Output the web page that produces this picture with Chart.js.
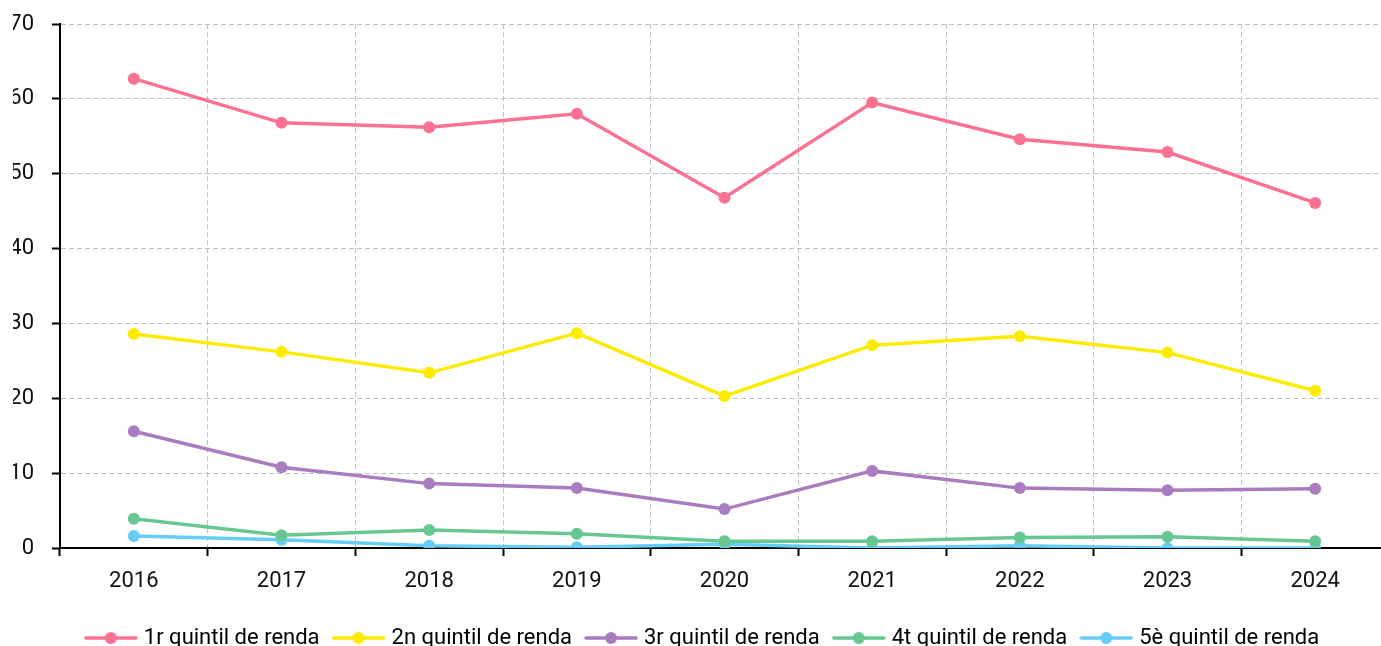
<!DOCTYPE html>
<html>
<head>
<meta charset="utf-8">
<script src="https://cdn.jsdelivr.net/npm/chart.js@4.4.1/dist/chart.umd.min.js"></script>
<style>
  html, body { margin: 0; padding: 0; background: #fff; overflow: hidden; }
  #wrap { width: 1395px; height: 659px; position: relative; }
</style>
</head>
<body>
<div id="wrap"><canvas id="c" width="1395" height="659"></canvas></div>
<script>
const years = ['2016','2017','2018','2019','2020','2021','2022','2023','2024'];
const quintil1 = [62.7, 56.8, 56.2, 58.0, 46.8, 59.5, 54.6, 52.9, 46.1];
const quintil2 = [28.6, 26.2, 23.4, 28.7, 20.3, 27.1, 28.3, 26.1, 21.0];
const quintil3 = [15.6, 10.8, 8.6, 8.0, 5.2, 10.3, 8.0, 7.7, 7.9];
const quintil4 = [3.9, 1.7, 2.4, 1.9, 0.9, 0.9, 1.4, 1.5, 0.9];
const quintil5 = [1.6, 1.1, 0.3, 0.1, 0.5, 0.0, 0.3, 0.0, 0.0];
const seriesNames = ['1r quintil de renda','2n quintil de renda','3r quintil de renda','4t quintil de renda','5è quintil de renda'];
const seriesColors = ['#fb7192','#fdeb00','#a97bbf','#66c791','#66cdf5'];
const seriesData = [quintil1, quintil2, quintil3, quintil4, quintil5];

const FONT = 'Roboto';

function legendMarker(color) {
  const c = document.createElement('canvas');
  c.width = 54; c.height = 14;
  const g = c.getContext('2d');
  g.strokeStyle = color; g.lineWidth = 3.5; g.lineCap = 'round';
  g.beginPath(); g.moveTo(2, 7); g.lineTo(52, 7); g.stroke();
  g.fillStyle = color;
  g.beginPath(); g.arc(27, 7, 6, 0, Math.PI * 2); g.fill();
  return c;
}
const markers = seriesColors.map(legendMarker);

new Chart(document.getElementById('c'), {
  type: 'line',
  data: {
    labels: years,
    datasets: seriesData.map((d, i) => ({
      label: seriesNames[i],
      data: d,
      borderColor: seriesColors[i],
      backgroundColor: seriesColors[i],
      borderWidth: 3.5,
      pointRadius: 6,
      pointHoverRadius: 6,
      pointBorderWidth: 0,
      tension: 0
    }))
  },
  options: {
    responsive: false,
    animation: false,
    layout: { padding: { top: 24, left: 13, right: 0, bottom: 0 } },
    plugins: {
      tooltip: { enabled: false },
      legend: {
        position: 'bottom',
        labels: {
          usePointStyle: true,
          pointStyleWidth: 44,
          boxHeight: 14,
          padding: 17,
          color: '#111',
          font: { family: FONT, size: 22 },
          generateLabels: (chart) => chart.data.datasets.map((ds, i) => ({
            text: ds.label,
            pointStyle: markers[i],
            fillStyle: ds.borderColor,
            strokeStyle: ds.borderColor,
            lineWidth: 0,
            hidden: false,
            datasetIndex: i
          }))
        }
      }
    },
    scales: {
      x: {
        offset: true,
        grid: {
          offset: true,
          color: '#c0c0c0',
          lineWidth: 1,
          tickLength: 8,
          tickColor: '#000',
          tickWidth: 2
        },
        border: { display: true, color: '#000', width: 2, dash: [5, 3] },
        ticks: { color: '#111', font: { family: FONT, size: 22 }, padding: 12, maxRotation: 0, autoSkip: false },
        afterFit: (s) => { s.height = 62; s.paddingLeft = 0; s.paddingRight = 0; }
      },
      y: {
        min: 0,
        max: 70,
        grid: {
          color: '#c0c0c0',
          lineWidth: 1,
          tickLength: 8,
          tickColor: '#000',
          tickWidth: 2
        },
        border: { display: true, color: '#000', width: 2, dash: [5, 3] },
        ticks: { stepSize: 10, color: '#111', font: { family: FONT, size: 22 }, padding: 18, autoSkip: false },
        afterFit: (s) => { s.width = 47; s.paddingTop = 0; s.paddingBottom = 0; }
      }
    }
  }
});
</script>
</body>
</html>
